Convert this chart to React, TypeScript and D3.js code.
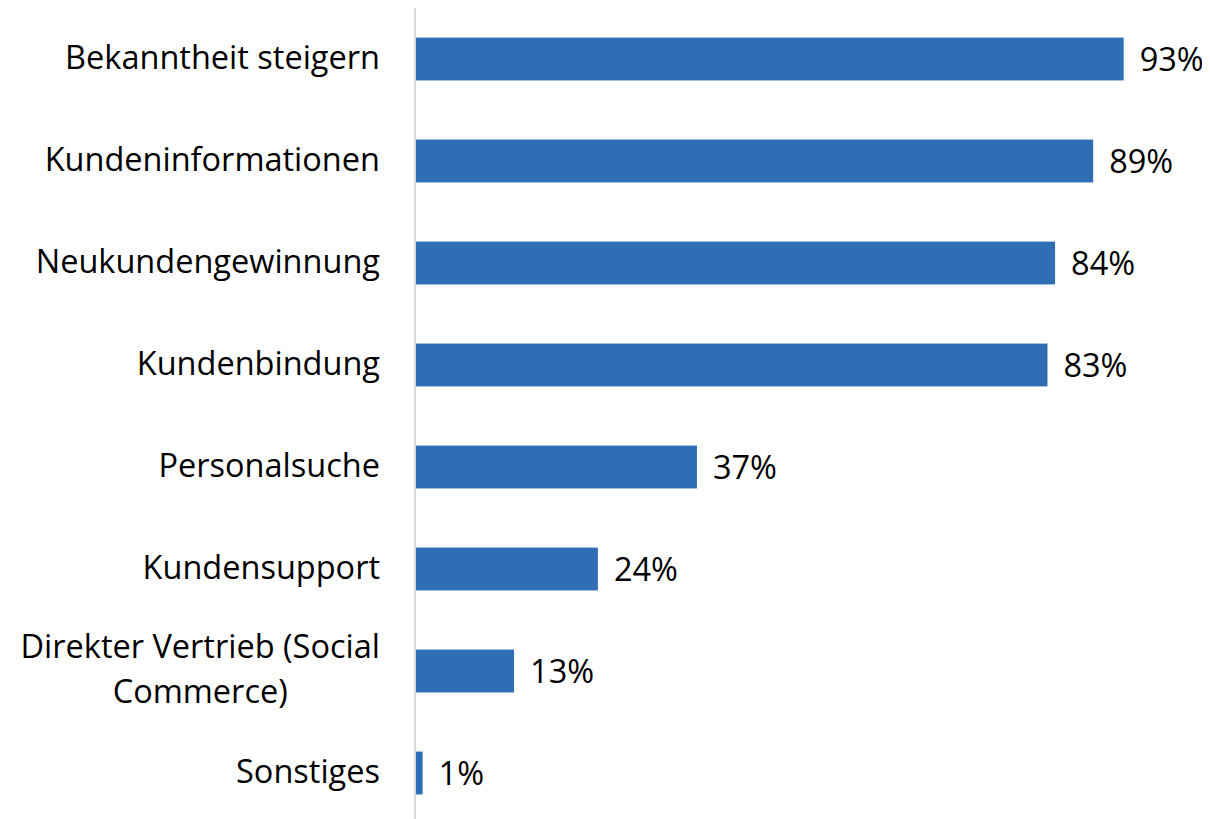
import React, { useEffect, useRef } from 'react';
import * as d3 from 'd3';

const categories = [
  'Bekanntheit steigern',
  'Kundeninformationen',
  'Neukundengewinnung',
  'Kundenbindung',
  'Personalsuche',
  'Kundensupport',
  'Direkter Vertrieb (Social Commerce)',
  'Sonstiges',
];
const values = [93, 89, 84, 83, 37, 24, 13, 1];
// manual line breaks for long labels
const labelLines: Record<string, string[]> = {
  'Direkter Vertrieb (Social Commerce)': ['Direkter Vertrieb (Social', 'Commerce)'],
};

const W = 1194;
const H = 811;

const App: React.FC = () => {
  const svgRef = useRef<SVGSVGElement>(null);

  useEffect(() => {
    if (!svgRef.current) return;
    const svg = d3.select(svgRef.current);
    svg.selectAll('*').remove();

    const axisX = 407;
    const x = d3.scaleLinear().domain([0, 100]).range([axisX, axisX + 762]);
    const y = d3.scaleBand<string>().domain(categories).range([0, 816]).paddingInner(0.58).paddingOuter(0.29);

    const font = '"Open Sans", sans-serif';
    const fs = 32.5;

    // bars
    svg.append('g')
      .selectAll('rect')
      .data(categories)
      .join('rect')
      .attr('x', x(0))
      .attr('y', (d) => y(d)!)
      .attr('width', (_, i) => x(values[i]) - x(0))
      .attr('height', y.bandwidth())
      .attr('fill', '#2F6DB5');

    // axis line
    svg.append('line')
      .attr('x1', axisX).attr('x2', axisX)
      .attr('y1', 0).attr('y2', H)
      .attr('stroke', '#d9d9d9').attr('stroke-width', 2);

    // value labels
    svg.append('g')
      .selectAll('text')
      .data(categories)
      .join('text')
      .attr('x', (_, i) => x(values[i]) + 16)
      .attr('y', (d) => y(d)! + y.bandwidth() / 2)
      .attr('dy', '0.37em')
      .attr('font-family', font)
      .attr('font-size', fs)
      .attr('fill', '#000')
      .text((_, i) => `${values[i]}%`);

    // category labels
    const labelX = 372;
    const dy = '0.3em';
    const lg = svg.append('g');
    categories.forEach((c) => {
      const cy = y(c)! + y.bandwidth() / 2;
      const lines = labelLines[c];
      if (!lines) {
        lg.append('text')
          .attr('x', labelX)
          .attr('y', cy)
          .attr('dy', dy)
          .attr('text-anchor', 'end')
          .attr('font-family', font)
          .attr('font-size', fs)
          .text(c);
      } else {
        const lh = 45;
        const first = lg.append('text')
          .attr('x', labelX)
          .attr('y', cy - lh / 2)
          .attr('dy', dy)
          .attr('text-anchor', 'end')
          .attr('font-family', font)
          .attr('font-size', fs)
          .text(lines[0]);
        const w = (first.node() as SVGTextElement).getComputedTextLength();
        lines.slice(1).forEach((ln, k) => {
          lg.append('text')
            .attr('x', labelX - w / 2)
            .attr('y', cy - lh / 2 + lh * (k + 1))
            .attr('dy', dy)
            .attr('text-anchor', 'middle')
            .attr('font-family', font)
            .attr('font-size', fs)
            .text(ln);
        });
      }
    });
  }, []);

  return (
    <svg
      ref={svgRef}
      width={W}
      height={H}
      style={{ display: 'block', background: '#fff', overflow: 'visible' }}
    />
  );
};

export default App;
